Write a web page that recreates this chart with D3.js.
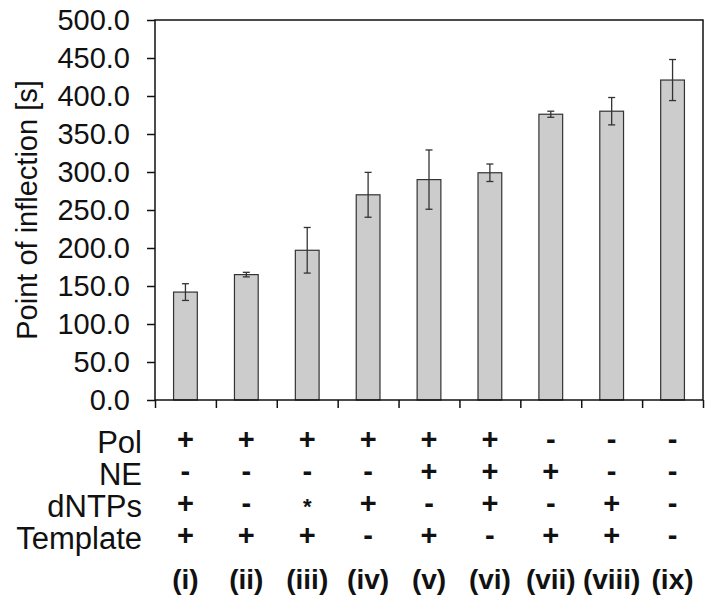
<!DOCTYPE html>
<html><head><meta charset="utf-8">
<script src="https://cdn.jsdelivr.net/npm/d3@7"></script>
<style>body{margin:0;background:#fff}svg{display:block}text{font-family:"Liberation Sans",Arial,sans-serif}</style>
</head><body><svg id="c" width="714" height="605"></svg>
<script>
const categories = ["(i)","(ii)","(iii)","(iv)","(v)","(vi)","(vii)","(viii)","(ix)"];
const values = [142, 165, 197, 270, 290, 299, 376, 380, 421];
const errors = [11, 3, 30, 29.5, 39, 11.5, 4, 18, 27];
const yTicks = [0,50,100,150,200,250,300,350,400,450,500];
const rowLabels = ["Pol","NE","dNTPs","Template"];
const rowPol = ["+","+","+","+","+","+","-","-","-"];
const rowNE = ["-","-","-","-","+","+","+","-","-"];
const rowDNTPs = ["+","-","*","+","-","+","-","+","-"];
const rowTemplate = ["+","+","+","-","+","-","+","+","-"];
const rows = [rowPol,rowNE,rowDNTPs,rowTemplate];

const L=155,R=703,T=20,B=400;
const svg=d3.select("#c");
const x=d3.scaleBand().domain(categories).range([L,R]).padding(0);
const xi=d3.scaleLinear().domain([0,categories.length]).range([L,R]);
const y=d3.scaleLinear().domain([0,500]).range([B,T]);
const bw=x.bandwidth()*0.39;

// bars
svg.append("g").selectAll("rect").data(values).join("rect")
 .attr("x",(d,i)=>x(categories[i])+(x.bandwidth()-bw)/2)
 .attr("y",d=>y(d)).attr("width",bw).attr("height",d=>B-y(d))
 .attr("fill","#cccccc").attr("stroke","#333").attr("stroke-width",1.2);

// error bars
const eg=svg.append("g").attr("stroke","#333").attr("stroke-width",1.3);
values.forEach((v,i)=>{
  const cx=x(categories[i])+x.bandwidth()/2;
  eg.append("line").attr("x1",cx).attr("x2",cx).attr("y1",y(v+errors[i])).attr("y2",y(v-errors[i]));
  [v+errors[i],v-errors[i]].forEach(e=>eg.append("line").attr("x1",cx-3.5).attr("x2",cx+3.5).attr("y1",y(e)).attr("y2",y(e)));
});

// y axis
const ya=svg.append("g").attr("transform",`translate(${L},0)`)
 .call(d3.axisLeft(y).tickValues(yTicks).tickFormat(d3.format(".1f")).tickSize(8).tickPadding(17));
ya.selectAll("text").attr("font-size",29).attr("fill","#111").style("font-family","'Liberation Sans',Arial,sans-serif");
ya.selectAll("line,path").attr("stroke","#111").attr("stroke-width",1.5);
ya.select("path").remove();

// x axis (ticks at band boundaries)
const xa=svg.append("g").attr("transform",`translate(0,${B})`)
 .call(d3.axisBottom(xi).tickValues(d3.range(categories.length+1)).tickFormat("").tickSize(8));
xa.selectAll("line,path").attr("stroke","#111").attr("stroke-width",1.5);
xa.select("path").remove();

// frame
svg.append("rect").attr("x",L).attr("y",T).attr("width",R-L).attr("height",B-T)
 .attr("fill","none").attr("stroke","#111").attr("stroke-width",1.5);

// y title
svg.append("text").attr("transform",`translate(37,${(T+B)/2}) rotate(-90)`)
 .attr("text-anchor","middle").attr("font-size",29).attr("fill","#111").text("Point of inflection [s]");

// condition table
const base=[453,485,517,549];
rowLabels.forEach((lab,r)=>{
  svg.append("text").attr("x",142).attr("y",base[r]).attr("text-anchor","end")
   .attr("font-size",31).attr("fill","#111").text(lab);
  svg.append("g").selectAll("text").data(rows[r]).join("text")
   .attr("x",(d,i)=>x(categories[i])+x.bandwidth()/2)
   .attr("y",d=>d==="*"?base[r]-3:base[r]-4)
   .attr("text-anchor","middle")
   .attr("font-size",d=>d==="*"?22:29)
   .attr("font-weight","bold")
   .attr("fill","#111").text(d=>d);
});
svg.append("g").selectAll("text").data(categories).join("text")
 .attr("x",d=>x(d)+x.bandwidth()/2).attr("y",589).attr("text-anchor","middle")
 .attr("font-size",28).attr("font-weight","bold").attr("fill","#111").text(d=>d);
</script></body></html>
